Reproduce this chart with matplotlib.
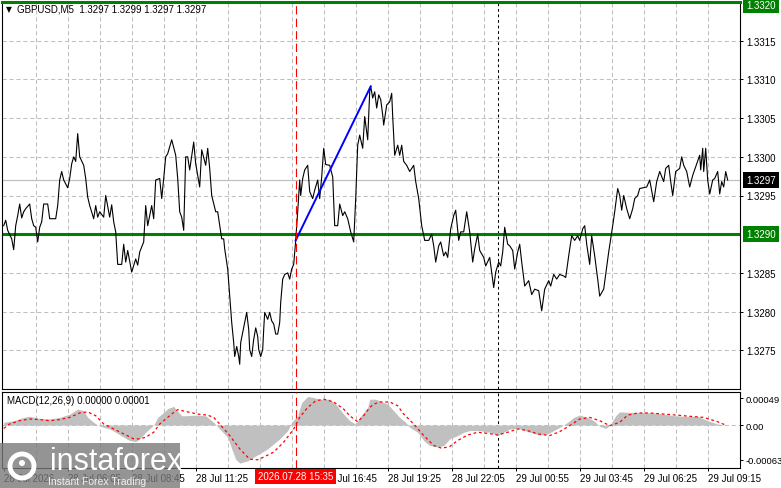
import numpy as np
import matplotlib
matplotlib.use("Agg")
import matplotlib.pyplot as plt
import matplotlib.transforms as mtransforms
from matplotlib.patches import Rectangle, Circle

plt.rcParams['font.family'] = ['Liberation Sans Narrow', 'Liberation Sans', 'DejaVu Sans']
plt.rcParams['lines.scale_dashes'] = False

# GBPUSD M5 line chart: bar number (5 min each) and close
bars = [0, 1, 2, 4, 5, 6, 7, 8, 9, 10, 11, 13, 14, 15, 16, 17, 18, 19, 20, 22, 23, 26, 27, 28, 29, 30,
        31, 32, 33, 34, 35, 36, 37, 38, 40, 41, 42, 43, 45, 46, 47, 48, 50, 51, 53, 54, 55, 56, 57, 59,
        60, 61, 62, 64, 66, 67, 68, 70, 71, 72, 74, 75, 76, 78, 79, 80, 81, 82, 84, 86, 87, 88, 89, 90,
        91, 92, 93, 95, 96, 98, 99, 101, 102, 103, 104, 106, 107, 109, 110, 110.5, 112, 113, 114, 115,
        115.5, 116.5, 117.5, 118, 118.5, 119.5, 120.5, 121.5, 122.5, 123, 124, 125, 126, 127, 127.5,
        128.5, 129.5, 130, 130.5, 132, 133, 134, 135, 136, 137, 138, 138.5, 139.5, 140.5, 142, 143,
        144, 145, 145.5, 146, 147, 148, 148.5, 149.5, 150.5, 152, 153, 154.5, 155.5, 157, 158, 159,
        160, 161, 163, 164.5, 165.5, 167, 168, 169.5, 170.5, 172, 173.5, 175, 176, 177, 178, 179.5,
        180.5, 182, 183, 183.5, 184.5, 185.5, 186.5, 187.5, 188.5, 189.5, 190, 191.5, 193, 194, 194.5,
        195.5, 197, 198, 199, 200, 201.5, 203, 205, 206, 207.5, 209, 210.5, 212.5, 214, 215, 216,
        217.5, 218.5, 220, 221, 222, 223.5, 225, 226, 227.5, 228.5, 230, 231.5, 233, 234.5, 235.5,
        237, 238, 240, 241, 243, 244, 245, 246, 247.5, 248.5, 249.5, 250.5, 252, 253, 254.5, 255.5,
        257, 258, 259, 260.5, 262.5, 264, 265.5, 267.5, 269, 270.5, 272.5, 273.5, 275, 276.5, 278,
        280, 281, 282.5, 284, 285.5, 287, 288, 289.5, 290.5, 291.5, 293, 294, 295.5, 297, 298, 300,
        301, 302.5, 303.5, 304.5, 305.5, 307, 308, 309, 310, 311.5, 313, 314.5, 315.5, 317, 318,
        321.5, 323, 325, 326.5, 328, 330, 331, 332.5, 333.5, 334.5, 336, 338, 339, 340, 341.5, 343,
        344.5, 346.5, 348, 348.5, 349.5, 350, 351, 352, 353, 354.5, 355.5, 357, 358, 359, 360, 361, 362]
close = [1.32911, 1.32918, 1.32905, 1.32894, 1.32880, 1.32911, 1.32924, 1.32939, 1.32921, 1.32929,
         1.32933, 1.32939, 1.32920, 1.32911, 1.32909, 1.32890, 1.32909, 1.32916, 1.32939, 1.32939,
         1.32920, 1.32920, 1.32937, 1.32970, 1.32981, 1.32970, 1.32965, 1.32960, 1.32972, 1.32991,
         1.33000, 1.32994, 1.33030, 1.33000, 1.32989, 1.32972, 1.32948, 1.32937, 1.32920, 1.32937,
         1.32922, 1.32929, 1.32922, 1.32950, 1.32922, 1.32938, 1.32916, 1.32903, 1.32861, 1.32861,
         1.32887, 1.32864, 1.32879, 1.32851, 1.32868, 1.32860, 1.32877, 1.32890, 1.32937, 1.32911,
         1.32937, 1.32920, 1.32970, 1.32972, 1.32946, 1.32972, 1.33000, 1.33004, 1.33022, 1.33002,
         1.32972, 1.32929, 1.32922, 1.32905, 1.33000, 1.33000, 1.32983, 1.33019, 1.32991, 1.32961,
         1.33009, 1.32989, 1.33011, 1.32985, 1.32950, 1.32929, 1.32929, 1.32894, 1.32894, 1.32881,
         1.32855, 1.32820, 1.32786, 1.32760, 1.32742, 1.32755, 1.32742, 1.32732, 1.32760, 1.32773,
         1.32786, 1.32799, 1.32777, 1.32751, 1.32742, 1.32764, 1.32779, 1.32768, 1.32751, 1.32742,
         1.32751, 1.32777, 1.32799, 1.32790, 1.32799, 1.32788, 1.32784, 1.32771, 1.32771, 1.32786,
         1.32812, 1.32842, 1.32848, 1.32850, 1.32842, 1.32855, 1.32861, 1.32877, 1.32892, 1.32929,
         1.32970, 1.32950, 1.32972, 1.32983, 1.32989, 1.32955, 1.32946, 1.32957, 1.32970, 1.32946,
         1.32974, 1.33011, 1.32990, 1.32989, 1.32974, 1.32911, 1.32911, 1.32939, 1.32924, 1.32929,
         1.32920, 1.32903, 1.32890, 1.32946, 1.33015, 1.33028, 1.33011, 1.33052, 1.33022, 1.33084,
         1.33091, 1.33076, 1.33084, 1.33063, 1.33080, 1.33074, 1.33054, 1.33041, 1.33067, 1.33071,
         1.33082, 1.33052, 1.33002, 1.33015, 1.33002, 1.33015, 1.32994, 1.32989, 1.32981, 1.32989,
         1.32968, 1.32946, 1.32911, 1.32892, 1.32892, 1.32900, 1.32885, 1.32864, 1.32885, 1.32890,
         1.32872, 1.32877, 1.32870, 1.32907, 1.32924, 1.32931, 1.32892, 1.32903, 1.32903, 1.32929,
         1.32903, 1.32864, 1.32881, 1.32900, 1.32879, 1.32870, 1.32859, 1.32870, 1.32851, 1.32831,
         1.32851, 1.32864, 1.32859, 1.32877, 1.32909, 1.32887, 1.32885, 1.32879, 1.32855, 1.32877,
         1.32887, 1.32864, 1.32833, 1.32840, 1.32822, 1.32829, 1.32827, 1.32801, 1.32829, 1.32840,
         1.32833, 1.32848, 1.32842, 1.32848, 1.32846, 1.32844, 1.32872, 1.32898, 1.32892, 1.32898,
         1.32892, 1.32907, 1.32911, 1.32887, 1.32861, 1.32898, 1.32872, 1.32842, 1.32820, 1.32829,
         1.32848, 1.32877, 1.32894, 1.32911, 1.32929, 1.32959, 1.32950, 1.32931, 1.32950, 1.32933,
         1.32920, 1.32933, 1.32946, 1.32950, 1.32959, 1.32961, 1.32970, 1.32942, 1.32968, 1.32981,
         1.32968, 1.32985, 1.32989, 1.32968, 1.32950, 1.32981, 1.32985, 1.33000, 1.32989, 1.32981,
         1.32961, 1.32976, 1.32991, 1.33002, 1.32983, 1.33011, 1.32981, 1.33011, 1.32970, 1.32952,
         1.32970, 1.32972, 1.32981, 1.32952, 1.32968, 1.32961, 1.32981, 1.32970]

# MACD(12,26,9) main histogram and signal line
hist_bars = [0, 5, 10, 13, 18, 23, 28, 33, 37, 40, 42, 45, 47, 50, 53, 56, 60, 63, 66, 68, 71, 75, 77,
             80, 82, 85, 86, 89, 91, 96, 101, 105, 108, 112, 114, 116, 118, 122, 125, 128, 132, 135,
             138, 142, 144, 147, 149, 152, 155, 158, 163, 166, 170, 173, 176, 178, 182, 183, 186, 192,
             195, 198, 201, 203, 207, 210, 213, 217, 220, 223, 227, 230, 233, 238, 243, 247, 250, 253,
             257, 260, 263, 268, 272, 275, 278, 282, 285, 288, 292, 295, 298, 301, 303, 306, 308, 313,
             318, 325, 330, 335, 340, 347, 352, 357, 362]
hist_vals = [0.00005, 0.00008, 0.00014, 0.00016, 0.00012, 0.00011, 0.00014, 0.00020, 0.00029, 0.00026,
             0.00014, 0.00005, 0.0, -0.00004, -0.00007, -0.00013, -0.00022, -0.00028, -0.00030,
             -0.00025, -0.00013, 0.0, 0.00014, 0.00023, 0.00030, 0.00034, 0.00029, 0.00017, 0.00017,
             0.00018, 0.00017, 0.00005, -0.00007, -0.00022, -0.00043, -0.00062, -0.00069, -0.00065,
             -0.00058, -0.00052, -0.00043, -0.00034, -0.00025, -0.00010, 0.00005, 0.00017, 0.00041,
             0.00052, 0.00050, 0.00047, 0.00047, 0.00038, 0.00020, 0.00008, 0.00002, 0.00014, 0.00032,
             0.00047, 0.00047, 0.00038, 0.00026, 0.00014, 0.00005, -0.00004, -0.00013, -0.00028,
             -0.00037, -0.00040, -0.00037, -0.00025, -0.00019, -0.00013, -0.00010, -0.00010, -0.00013,
             -0.00019, -0.00013, -0.00007, -0.00006, -0.00009, -0.00013, -0.00018, -0.00016, -0.00010,
             -0.00004, 0.00005, 0.00014, 0.00018, 0.00014, 0.00008, -0.00002, -0.00006, -0.00001,
             0.00017, 0.00024, 0.00023, 0.00023, 0.00022, 0.00020, 0.00017, 0.00016, 0.00016, 0.00008,
             0.00002, -0.00001]
sig_bars = [0, 3, 8, 13, 18, 23, 28, 33, 38, 42, 46, 50, 55, 60, 65, 68, 71, 75, 78, 82, 85, 87, 92,
            97, 102, 105, 108, 113, 118, 123, 127, 130, 135, 140, 145, 148, 152, 156, 160, 165, 170,
            173, 177, 180, 183, 185, 188, 193, 197, 200, 205, 210, 215, 219, 223, 227, 232, 237, 242,
            247, 252, 257, 262, 267, 273, 278, 283, 288, 293, 298, 303, 308, 312, 317, 323, 330, 337,
            343, 350, 357, 361]
sig_vals = [-0.00006, 0.00002, 0.00008, 0.00011, 0.00010, 0.00008, 0.00010, 0.00014, 0.00022, 0.00024,
            0.00017, 0.00002, -0.00007, -0.00016, -0.00025, -0.00025, -0.00022, -0.00013, 0.00002,
            0.00014, 0.00023, 0.00028, 0.00024, 0.00020, 0.00018, 0.00014, 0.00002, -0.00019,
            -0.00043, -0.00062, -0.00063, -0.00058, -0.00049, -0.00031, -0.00007, 0.00014, 0.00032,
            0.00044, 0.00047, 0.00042, 0.00029, 0.00017, 0.00006, 0.00017, 0.00032, 0.00038, 0.00042,
            0.00042, 0.00035, 0.00020, 0.00002, -0.00019, -0.00037, -0.00042, -0.00039, -0.00028,
            -0.00018, -0.00013, -0.00015, -0.00018, -0.00013, -0.00007, -0.00010, -0.00016, -0.00019,
            -0.00012, -0.00001, 0.00011, 0.00014, 0.00008, -0.00001, 0.00005, 0.00018, 0.00022,
            0.00022, 0.00020, 0.00018, 0.00016, 0.00014, 0.00006, 0.0]

trend_bars = [146, 183.5]
trend_prices = [1.32892, 1.33091]

price_ticks = [1.3275, 1.3280, 1.3285, 1.3295, 1.3300, 1.3305, 1.3310, 1.3315]
grid_levels = [1.3275, 1.3280, 1.3285, 1.3295, 1.3300, 1.3305, 1.3310, 1.3315]
macd_ticks = [-0.00063, 0.0, 0.00049]
macd_labels = ['-0.00063', '0.00', '0.00049']
time_bars = [0, 32, 64, 96, 160, 192, 224, 256, 288, 320, 352]
time_labels = ['28 Jul 2026', '28 Jul 06:05', '28 Jul 08:45', '28 Jul 11:25', '28 Jul 16:45',
               '28 Jul 19:25', '28 Jul 22:05', '29 Jul 00:55', '29 Jul 03:45', '29 Jul 06:25',
               '29 Jul 09:15']
cross_bar = 146
day_sep_bar = 247

W, H = 781, 489
fig = plt.figure(figsize=(W / 100, H / 100), dpi=100)
ax = fig.add_axes([2 / W, 1 - 390 / H, 738.3 / W, 387 / H])
ax2 = fig.add_axes([2 / W, 1 - 468.5 / H, 738.3 / W, 76 / H])

grid_c = '#c0c0c0'
dash = (0, (3, 2))
for a in (ax, ax2):
    a.set_xlim(-0.85, 368.3)
    for s in a.spines.values():
        s.set_linewidth(0.8)
        s.set_color('black')
    a.yaxis.tick_right()
    a.tick_params(axis='y', length=2.5, width=0.7, pad=2, labelsize=7, colors='black')
    for b in np.arange(16, 368, 16):
        a.axvline(b, color=grid_c, lw=0.75, ls=dash, zorder=0)
    a.axvline(cross_bar, color='red', lw=0.8, ls=(0, (6, 3)), zorder=5)
    a.axvline(day_sep_bar, color='black', lw=0.75, ls=(0, (2, 2)), zorder=0.5)

# main price panel
ax.set_ylim(1.3270, 1.3320)
ax.set_xticks([])
ax.set_yticks(price_ticks)
ax.set_yticklabels(['%.4f' % p for p in price_ticks])
for lv in grid_levels:
    ax.axhline(lv, color=grid_c, lw=0.75, ls=dash, zorder=0)
ax.axhline(1.3297, color=grid_c, lw=0.9, zorder=1)
ax.axhline(1.3290, color='#008000', lw=2.2, zorder=2)
ax.axhline(1.3320, color='#008000', lw=2.2, zorder=6, clip_on=False)
ax.plot(bars, close, color='black', lw=0.8, zorder=3)
ax.plot(trend_bars, trend_prices, color='#0000ff', lw=1.4, zorder=4)

tr = mtransforms.blended_transform_factory(ax.transAxes, ax.transData)
for lv, fc, dy in [(1.3320, '#008000', -3), (1.3290, '#008000', 0), (1.3297, 'black', 0)]:
    ax.annotate('%.4f' % lv, xy=(1, lv), xycoords=tr, xytext=(6, dy),
                textcoords='offset pixels', ha='left', va='center', fontsize=7,
                color='white', zorder=10, annotation_clip=False,
                bbox=dict(boxstyle='square,pad=0.3', fc=fc, ec='none'))

ax.annotate('\u25bc', xy=(0, 1), xycoords='axes fraction', xytext=(4, -7),
            textcoords='offset pixels', fontsize=5.5, va='center', ha='left',
            family=['DejaVu Sans'])
ax.annotate('GBPUSD,M5  1.3297 1.3299 1.3297 1.3297', xy=(0, 1), xycoords='axes fraction',
            xytext=(15, -7), textcoords='offset pixels', fontsize=7, va='center', ha='left')

# MACD panel
ax2.set_ylim(-0.00077, 0.00061)
ax2.set_yticks(macd_ticks)
ax2.set_yticklabels(macd_labels)
ax2.tick_params(axis='y', pad=1, labelsize=6.8)
ax2.axhline(0, color=grid_c, lw=0.75, ls=dash, zorder=0.6)
ax2.fill_between(hist_bars, 0, hist_vals, color='#c0c0c0', lw=0, zorder=1)
ax2.plot(sig_bars, sig_vals, color='red', lw=0.9, ls=(0, (2, 2)), zorder=3)
ax2.set_xticks(time_bars)
ax2.set_xticklabels(time_labels, ha='left')
ax2.tick_params(axis='x', length=2.5, width=0.7, pad=1.5, labelsize=7, colors='black')
ax2.annotate('MACD(12,26,9) 0.00000 0.00001', xy=(0, 1), xycoords='axes fraction',
             xytext=(5, -9), textcoords='offset pixels', fontsize=7, va='center', ha='left')
ax2.annotate('2026.07.28 15:35', xy=(cross_bar, 0), xycoords=('data', 'axes fraction'),
             xytext=(0, -9), textcoords='offset pixels', ha='center', va='center', fontsize=7,
             color='white', zorder=10, annotation_clip=False,
             bbox=dict(boxstyle='square,pad=0.3', fc='#ff0000', ec='none'))

# watermark
fig.patches.append(Rectangle((0, 0), 180 / W, 45 / H, transform=fig.transFigure,
                             fc='#7a7a7a', ec='none', alpha=0.8, zorder=20))
gear = Circle((0, 0), 12, fc='none', ec='white', lw=3.5, zorder=21,
              transform=mtransforms.Affine2D().translate(22, 22))
fig.patches.append(gear)
fig.patches.append(Circle((0, 0), 3, fc='white', ec='none', zorder=21,
                          transform=mtransforms.Affine2D().translate(22, 25)))
fig.text(50 / W, 27 / H, 'instaforex', fontsize=22, color='white', va='center', ha='left',
         zorder=22)
fig.text(48 / W, 7 / H, 'Instant Forex Trading', fontsize=7.5, color='#f0f0f0', va='center',
         ha='left', zorder=22)

fig.savefig('out.png', dpi=100)
